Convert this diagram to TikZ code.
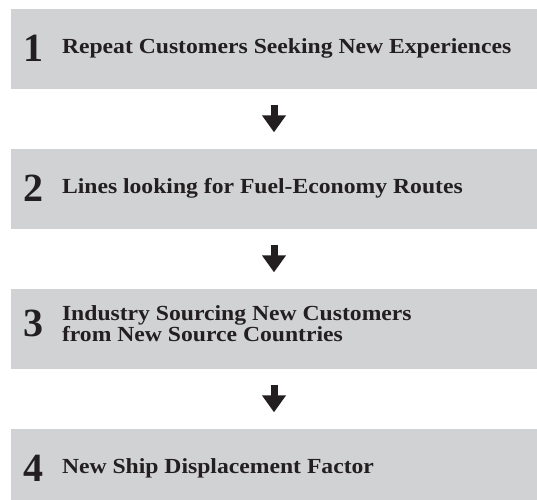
\documentclass[tikz,border=0pt]{standalone}
\usepackage{fontspec}
\setmainfont{Liberation Serif}
\newfontfamily\stepfont{Liberation Serif}[FakeStretch=1.1]
\usetikzlibrary{positioning,arrows.meta}
\definecolor{boxgray}{HTML}{D1D2D4}
\definecolor{inkdark}{HTML}{231F20}
\tikzset{
	stepbox/.style={fill=boxgray, minimum width=526pt, minimum height=80pt, inner sep=0pt},
	stepnum/.style={inner sep=0pt, text=inkdark, font=\bfseries\fontsize{40}{40}\selectfont},
	steplabel/.style={inner sep=0pt, text=inkdark, align=left, font=\stepfont\bfseries\fontsize{21.5}{19.5}\selectfont},
	flowarrow/.style={draw=inkdark, line width=7pt, -{Triangle[width=23pt,length=17pt]}, shorten <=16pt, shorten >=16pt}
}
\begin{document}
\begin{tikzpicture}[x=1pt,y=-1pt]
		\path[use as bounding box, clip] (0,0) rectangle (537,499);

		% Caselle
		\node[stepbox] (b1) at (274,48.5) {};
		\node[stepbox] (b2) at (274,188.5) {};
		\node[stepbox] (b3) at (274,328.5) {};
		\node[stepbox] (b4) at (274,468.5) {};

		% Numeri
		\node[stepnum, right=12pt of b1.west] (n1) {1};
		\node[stepnum, right=12pt of b2.west] (n2) {2};
		\node[stepnum, right=12pt of b3.west, yshift=5pt] (n3) {3};
		\node[stepnum, right=12pt of b4.west] (n4) {4};

		% Testi
		\node[steplabel, right=51pt of b1.west] (t1) {Repeat Customers Seeking New Experiences};
		\node[steplabel, right=51pt of b2.west] (t2) {Lines looking for Fuel-Economy Routes};
		\node[steplabel, right=51pt of b3.west, yshift=5pt] (t3) {Industry Sourcing New Customers\\from New Source Countries};
		\node[steplabel, right=51pt of b4.west] (t4) {New Ship Displacement Factor};

		% Frecce
		\foreach \i/\j in {1/2,2/3,3/4}
		\draw[flowarrow] (b\i.south) -- (b\j.north);
	\end{tikzpicture}
\end{document}
